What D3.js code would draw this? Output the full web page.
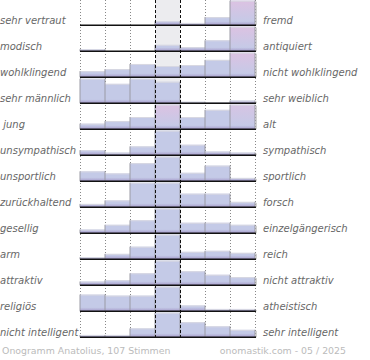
<!DOCTYPE html>
<html><head><meta charset="utf-8">
<script src="https://cdn.jsdelivr.net/npm/d3@7/dist/d3.min.js"></script>
<style>body{margin:0;background:#fff}svg{display:block}</style>
</head><body><svg id="c" width="370" height="360"></svg>
<script>
const leftLabels = ["sehr vertraut","modisch","wohlklingend","sehr männlich"," jung","unsympathisch","unsportlich","zurückhaltend","gesellig","arm","attraktiv","religiös","nicht intelligent"];
const rightLabels = ["fremd","antiquiert","nicht wohlklingend","sehr weiblich","alt","sympathisch","sportlich","forsch","einzelgängerisch","reich","nicht attraktiv","atheistisch","sehr intelligent"];
const steps = [1,2,3,4,5,6,7];
const r01 = [0,0,0,4,2.3,8,40];
const r02 = [2,0,0,6.3,4,10.7,38];
const r03 = [6,8,13,11,12,17,32];
const r04 = [24,19,24,21,1.5,1.2,2.7];
const r05 = [5.5,8,12,30,12,19,28];
const r06 = [5,2.7,8.7,24,10.3,3.7,2.7];
const r07 = [9.7,7.7,17.7,24,8.3,15.3,3.3];
const r08 = [3.3,6.7,24,24,13.3,13.3,5.3];
const r09 = [3.7,8.3,12.7,24,10.3,10.3,8.3];
const r10 = [2,5.3,12.3,24,7.3,8.3,6.3];
const r11 = [3.7,5,11.7,24,13.7,10.3,8];
const r12 = [16.3,15.3,15.3,24,5.7,2.3,2.3];
const r13 = [2.3,2.3,8.7,24,14.7,10.7,7.3];
const rowValues = [r01,r02,r03,r04,r05,r06,r07,r08,r09,r10,r11,r12,r13];
const footerLeft = "Onogramm Anatolius, 107 Stimmen";
const footerRight = "onomastik.com - 05 / 2025";

const cap = 24;
const svg = d3.select("#c");
const x = d3.scaleBand().domain(steps).range([80,255]);
const y = d3.scaleBand().domain(d3.range(leftLabels.length)).range([-0.7,337.3]);
const h = d3.scaleLinear().domain([0,cap]).range([0,24.6]).clamp(true);
const pink = d3.scaleLinear().domain([cap, cap+6]).range([0.3,1]).clamp(true);

const defs = svg.append("defs");
const gb = defs.append("linearGradient").attr("id","bot").attr("x1",0).attr("y1",0).attr("x2",0).attr("y2",1);
gb.append("stop").attr("offset","0%").attr("stop-color","#a99fcc").attr("stop-opacity",0);
gb.append("stop").attr("offset","100%").attr("stop-color","#a397c8").attr("stop-opacity",1);
const gp = defs.append("linearGradient").attr("id","pk").attr("x1",0).attr("y1",0).attr("x2",0).attr("y2",1);
gp.append("stop").attr("offset","0%").attr("stop-color","#dcc2e2").attr("stop-opacity",1);
gp.append("stop").attr("offset","90%").attr("stop-color","#dcc2e2").attr("stop-opacity",0);

const base = i => y(i) + y.bandwidth();

svg.append("rect").attr("x",x(4)).attr("y",0).attr("width",x.bandwidth()).attr("height",base(12))
  .attr("fill","#ececef");

const gridX = [x(1), x(2), x(3), x(6), x(7), x(7)+x.bandwidth()];
svg.selectAll("line.grid").data(gridX).join("line")
  .attr("x1",d=>d+0.5).attr("x2",d=>d+0.5).attr("y1",0).attr("y2",base(12))
  .attr("stroke","#888").attr("stroke-dasharray","1,2").attr("stroke-width",1);

const rows = svg.selectAll("g.row").data(rowValues).join("g").attr("class","row");
rows.each(function(vals, i){
  const g = d3.select(this);
  const b = base(i);
  const data = vals.map((v,k)=>({v, s:steps[k]}));
  g.selectAll("rect.bar").data(data).join("rect")
    .attr("x",d=>x(d.s)).attr("width",x.bandwidth())
    .attr("y",d=>b-h(d.v)).attr("height",d=>h(d.v)).attr("fill","#c4cae7");
  g.selectAll("rect.pk").data(data.filter(d=>d.v>cap)).join("rect")
    .attr("x",d=>x(d.s)).attr("width",x.bandwidth())
    .attr("y",d=>b-h(d.v)).attr("height",d=>h(d.v)).attr("fill","url(#pk)")
    .attr("opacity",d=>pink(d.v));
  g.selectAll("rect.bt").data(data.filter(d=>d.v>0)).join("rect")
    .attr("x",d=>x(d.s)).attr("width",x.bandwidth())
    .attr("y",d=>b-Math.min(4,h(d.v))).attr("height",d=>Math.min(4,h(d.v))).attr("fill","url(#bot)");
  g.selectAll("line.top").data(data.filter(d=>d.v>0)).join("line")
    .attr("x1",d=>x(d.s)).attr("x2",d=>x(d.s)+x.bandwidth())
    .attr("y1",d=>b-h(d.v)+0.5).attr("y2",d=>b-h(d.v)+0.5)
    .attr("stroke","#d8d8e2").attr("stroke-width",1);
  const edges = d3.range(8).map(k=>({
    xx: k<7 ? x(steps[k]) : x(steps[6])+x.bandwidth(),
    hh: Math.max(k>0?h(vals[k-1]):0, k<7?h(vals[k]):0)}));
  g.selectAll("line.edge").data(edges.filter(e=>e.hh>0)).join("line")
    .attr("x1",e=>e.xx).attr("x2",e=>e.xx).attr("y1",e=>b-e.hh).attr("y2",b)
    .attr("stroke",(e,k)=>"#9a9aa4").attr("stroke-width",1);
  if (vals[6] > 0) {
    g.append("line").attr("x1",256.2).attr("x2",256.2).attr("y1",b-h(vals[6])+1).attr("y2",b)
      .attr("stroke","#bbb").attr("stroke-width",1);
  }
  g.append("line").attr("x1",80).attr("x2",256).attr("y1",b).attr("y2",b)
    .attr("stroke","#111").attr("stroke-width",1.6);
  g.append("text").attr("x",0).attr("y",b-1).text(leftLabels[i])
    .style("white-space","pre").attr("xml:space","preserve");
  g.append("text").attr("x",263).attr("y",b-1).text(rightLabels[i]);
});
rows.selectAll("text").attr("font-family","DejaVu Sans").attr("font-style","italic")
  .attr("font-size","10px").attr("fill","#676767");

svg.selectAll("line.dash").data([x(4), x(5)]).join("line")
  .attr("x1",d=>d+0.5).attr("x2",d=>d+0.5).attr("y1",0).attr("y2",base(12))
  .attr("stroke","#111").attr("stroke-dasharray","3,2").attr("stroke-width",1);

svg.append("text").attr("x",2).attr("y",354).text(footerLeft)
  .attr("font-family","DejaVu Sans").attr("font-size","9.4px").attr("fill","#bbb");
svg.append("text").attr("x",346).attr("y",354).attr("text-anchor","end").text(footerRight)
  .attr("font-family","DejaVu Sans").attr("font-size","9.4px").attr("fill","#bbb");
</script></body></html>
